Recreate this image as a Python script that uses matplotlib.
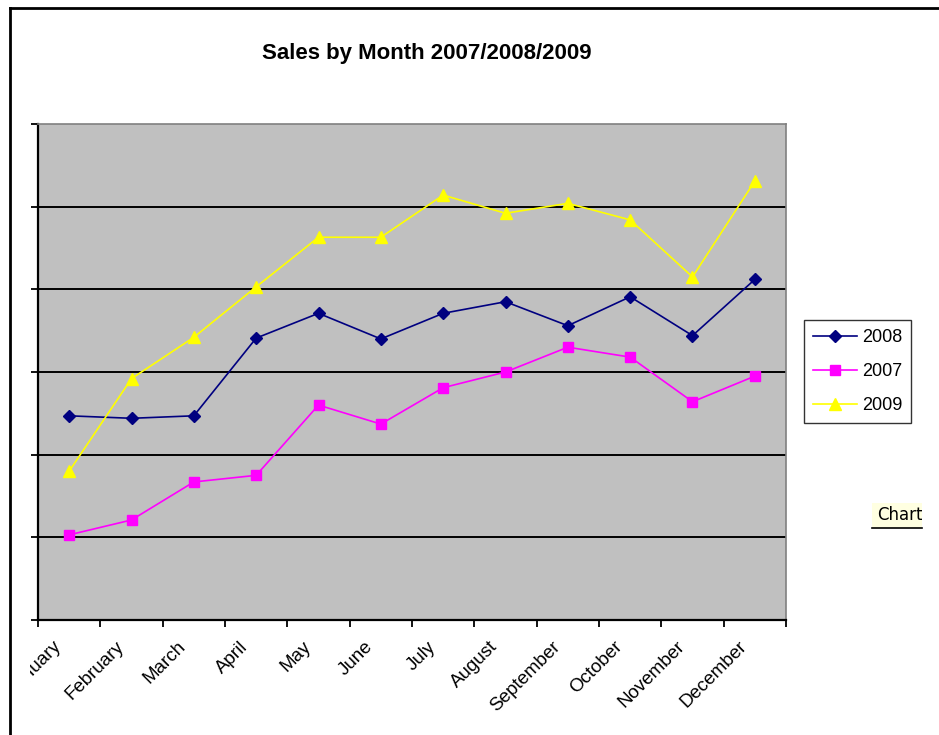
import matplotlib.pyplot as plt
from matplotlib.lines import Line2D
from matplotlib.patches import Rectangle
from matplotlib.transforms import Bbox, TransformedBbox

plt.rcParams['font.family'] = ['Liberation Sans', 'DejaVu Sans']

months = ['January', 'February', 'March', 'April', 'May', 'June', 'July',
          'August', 'September', 'October', 'November', 'December']
sales_2008 = [2.47, 2.44, 2.47, 3.41, 3.71, 3.40, 3.71, 3.85, 3.56, 3.91, 3.44, 4.12]
sales_2007 = [1.03, 1.21, 1.67, 1.75, 2.60, 2.37, 2.81, 3.00, 3.30, 3.18, 2.64, 2.95]
sales_2009 = [1.80, 2.92, 3.42, 4.03, 4.63, 4.63, 5.14, 4.92, 5.04, 4.84, 4.15, 5.31]
y_ticks = [0, 1, 2, 3, 4, 5, 6]

W, H = 939, 735
fig = plt.figure(figsize=(W / 100, H / 100), dpi=100)
fig.patch.set_facecolor('white')

# axes placed by pixel box of the reference plot area
x0, x1, ytop, ybot = 38, 786, 124, 620
ax = fig.add_axes([x0 / W, 1 - ybot / H, (x1 - x0) / W, (ybot - ytop) / H])
ax.set_facecolor('#C0C0C0')

x = list(range(len(months)))
ax.plot(x, sales_2008, color='#000080', lw=1.2, marker='D', ms=6.5, label='2008')
ax.plot(x, sales_2007, color='#FF00FF', lw=1.2, marker='s', ms=7.5, label='2007')
ax.plot(x, sales_2009, color='#FFFF00', lw=1.2, marker='^', ms=8.5, label='2009')

ax.set_xlim(-0.5, len(months) - 0.5)
ax.set_ylim(0, 6)
ax.set_yticks(y_ticks)
ax.set_yticklabels([])
for yv in y_ticks[1:-1]:
    ax.axhline(yv, color='black', lw=1.4, zorder=0.5)

# category ticks sit between months; labels end just left of month centres
ax.set_xticks([i - 0.5 for i in range(len(months) + 1)])
ax.set_xticklabels([])
ax.set_xticks([i - 0.07 for i in x], minor=True)
ax.set_xticklabels(months, minor=True, rotation=45, ha='right', va='top',
                   fontsize=13.5)
ax.tick_params(axis='x', which='minor', length=0, pad=13)
ax.tick_params(axis='both', which='major', direction='out', length=5,
               width=1.3, color='black')

for side in ['top', 'right']:
    ax.spines[side].set_color('#808080')
    ax.spines[side].set_linewidth(1.2)
for side in ['left', 'bottom']:
    ax.spines[side].set_color('black')
    ax.spines[side].set_linewidth(1.6)

# January label is clipped by the chart area in the reference
clip = TransformedBbox(Bbox([[30 / W, 0], [1, 1]]), fig.transFigure)
for lbl in ax.get_xticklabels(minor=True):
    lbl.set_clip_on(True)
    lbl.set_clip_box(clip)

fig.text(427 / W, 1 - 53 / H, 'Sales by Month 2007/2008/2009',
         ha='center', va='center', fontsize=16, fontweight='bold')

handles, labels = ax.get_legend_handles_labels()
leg = fig.legend(handles, labels, loc='upper left',
                 bbox_to_anchor=(804 / W, 1 - 320 / H), fontsize=13,
                 frameon=True, fancybox=False, edgecolor='black',
                 handlelength=2.45, borderaxespad=0, borderpad=0.5,
                 labelspacing=0.95, handletextpad=0.25)
leg.get_frame().set_linewidth(1.0)

# outer chart-area frame (left and top edges visible)
fig.add_artist(Line2D([10 / W, 10 / W], [0, 1 - 8 / H], color='black',
                      lw=2, transform=fig.transFigure))
fig.add_artist(Line2D([10 / W, 1], [1 - 8 / H, 1 - 8 / H], color='black',
                      lw=2, transform=fig.transFigure))

# tooltip fragment
fig.add_artist(Rectangle((872 / W, 1 - 528 / H), 50 / W, 25 / H,
                         transform=fig.transFigure, facecolor='#FFFFE1',
                         edgecolor='none'))
fig.add_artist(Line2D([872 / W, 922 / W], [1 - 528 / H, 1 - 528 / H],
                      color='black', lw=1.2, transform=fig.transFigure))
tip = fig.text(877 / W, 1 - 515 / H, 'Chart', ha='left', va='center',
               fontsize=12, family=['DejaVu Sans'])
tip.set_clip_box(TransformedBbox(Bbox([[872 / W, 0], [922 / W, 1]]),
                                 fig.transFigure))
tip.set_clip_on(True)

fig.savefig('out.png', dpi=100)
